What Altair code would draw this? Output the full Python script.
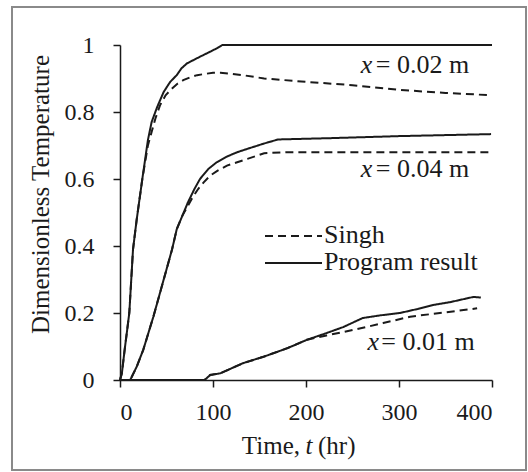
import altair as alt
import pandas as pd

# ---- data ----
# x = 0.02 m
prog02_t = [0, 2, 5, 10, 14, 18, 24, 30, 34, 40, 47, 54, 61, 66, 72, 79, 86, 97, 104, 110, 400]
prog02_T = [0, 0.02, 0.09, 0.2, 0.39, 0.48, 0.6, 0.716, 0.77, 0.815, 0.86, 0.89, 0.91, 0.93, 0.945, 0.955, 0.965, 0.98, 0.99, 1.0, 1.0]
singh02_t = [0, 2, 5, 10, 14, 18, 24, 30, 34, 38, 43, 49, 56, 62, 68, 75, 83, 92, 100, 108, 120, 132, 155, 200, 250, 300, 350, 399]
singh02_T = [0, 0.02, 0.09, 0.2, 0.39, 0.48, 0.6, 0.7, 0.74, 0.78, 0.82, 0.85, 0.87, 0.885, 0.895, 0.903, 0.91, 0.914, 0.917, 0.917, 0.914, 0.91, 0.90, 0.89, 0.88, 0.866, 0.857, 0.85]
# x = 0.04 m
prog04_t = [0, 11, 18, 25, 36, 46, 56, 61, 67, 73, 80, 86, 95, 104, 115, 126, 137, 155, 170, 227, 300, 399]
prog04_T = [0, 0, 0.04, 0.09, 0.19, 0.29, 0.39, 0.45, 0.49, 0.53, 0.57, 0.60, 0.63, 0.65, 0.667, 0.68, 0.69, 0.706, 0.718, 0.722, 0.728, 0.734]
singh04_t = [0, 11, 18, 25, 36, 46, 56, 61, 67, 73, 78, 84, 90, 97, 105, 115, 126, 137, 155, 180, 250, 320, 399]
singh04_T = [0, 0, 0.04, 0.09, 0.19, 0.29, 0.39, 0.45, 0.49, 0.52, 0.545, 0.57, 0.59, 0.61, 0.625, 0.64, 0.65, 0.66, 0.677, 0.68, 0.68, 0.68, 0.68]
# x = 0.01 m
prog01_t = [0, 91, 97, 108, 132, 155, 180, 201, 222, 240, 261, 280, 301, 320, 337, 356, 372, 380, 388]
prog01_T = [0, 0, 0.015, 0.02, 0.05, 0.07, 0.095, 0.12, 0.14, 0.158, 0.185, 0.193, 0.2, 0.212, 0.224, 0.233, 0.243, 0.248, 0.246]
singh01_t = [0, 91, 97, 108, 132, 155, 180, 201, 222, 240, 260, 283, 312, 344, 384]
singh01_T = [0, 0, 0.015, 0.02, 0.05, 0.07, 0.095, 0.12, 0.133, 0.143, 0.155, 0.17, 0.189, 0.20, 0.214]

methods = ["Singh", "Program result"]
dashes = [[8, 5], [1, 0]]

# curve labels
lab_rest = ["= 0.02 m", "= 0.04 m", "= 0.01 m"]
lab_x_t = [259, 259, 266]
lab_rest_t = [275, 275, 281]
lab_T = [0.916, 0.606, 0.09]

x_ticks = [0, 100, 200, 300, 400]
y_ticks = [0, 0.2, 0.4, 0.6, 0.8, 1]

rows = []
for name, method, ts, Ts in [
    ("0.02", "Program result", prog02_t, prog02_T),
    ("0.02", "Singh", singh02_t, singh02_T),
    ("0.04", "Program result", prog04_t, prog04_T),
    ("0.04", "Singh", singh04_t, singh04_T),
    ("0.01", "Program result", prog01_t, prog01_T),
    ("0.01", "Singh", singh01_t, singh01_T),
]:
    for i, (t, T) in enumerate(zip(ts, Ts)):
        rows.append({"t": t, "T": T, "pos": name, "method": method, "curve": name + method, "i": i})
df = pd.DataFrame(rows)
labels = pd.DataFrame({"rest": lab_rest, "tx": lab_x_t, "tr": lab_rest_t, "T": lab_T})

FONT = "Liberation Serif"
INK = "#1a1a1a"
TXT = 26
xs = alt.Scale(domain=[0, 400], nice=False)
ys = alt.Scale(domain=[0, 1], nice=False)

lines = alt.Chart(df).mark_line(strokeWidth=2, color=INK, clip=False).encode(
    x=alt.X("t:Q", scale=xs, axis=alt.Axis(
        values=x_ticks, title=None, labelPadding=13, format="d",
        labelFont=FONT, labelFontSize=24, labelColor=INK)),
    y=alt.Y("T:Q", scale=ys, axis=alt.Axis(
        values=y_ticks, title="Dimensionless Temperature", labelPadding=19,
        labelExpr="datum.value == 0 ? '0' : datum.value == 1 ? '1' : format(datum.value, '.1f')",
        labelFont=FONT, labelFontSize=24, labelColor=INK,
        titleFont=FONT, titleFontSize=25, titleColor=INK, titleFontWeight="normal",
        titleX=-80, titleY=149, titleAlign="center", titleBaseline="middle", titleAngle=270)),
    strokeDash=alt.StrokeDash("method:N", scale=alt.Scale(domain=methods, range=dashes), legend=None),
    detail="curve:N",
    order="i:Q",
)

lab_x = alt.Chart(labels).mark_text(font=FONT, fontSize=TXT, fontStyle="italic", align="left",
                                    baseline="alphabetic", color=INK).encode(
    x=alt.X("tx:Q", scale=xs), y=alt.Y("T:Q", scale=ys), text=alt.value("x"))
lab_r = alt.Chart(labels).mark_text(font=FONT, fontSize=TXT, align="left",
                                    baseline="alphabetic", color=INK).encode(
    x=alt.X("tr:Q", scale=xs), y=alt.Y("T:Q", scale=ys), text="rest:N")

# x-axis title with italic t
base = alt.Chart(pd.DataFrame({"a": [0]}))
xt1 = base.mark_text(font=FONT, fontSize=25, align="right", baseline="alphabetic", color=INK).encode(
    x=alt.value(180), y=alt.value(409), text=alt.value("Time,"))
xt2 = base.mark_text(font=FONT, fontSize=25, fontStyle="italic", align="center", baseline="alphabetic", color=INK).encode(
    x=alt.value(189), y=alt.value(409), text=alt.value("t"))
xt3 = base.mark_text(font=FONT, fontSize=25, align="left", baseline="alphabetic", color=INK).encode(
    x=alt.value(198), y=alt.value(409), text=alt.value("(hr)"))

# legend drawn by hand
leg1 = base.mark_rule(strokeWidth=2, color=INK, strokeDash=[8, 5]).encode(
    x=alt.value(145), x2=alt.value(202), y=alt.value(191))
leg2 = base.mark_rule(strokeWidth=2, color=INK).encode(
    x=alt.value(145), x2=alt.value(202), y=alt.value(218))
legt1 = base.mark_text(font=FONT, fontSize=TXT, align="left", baseline="alphabetic", color=INK).encode(
    x=alt.value(204), y=alt.value(198), text=alt.value("Singh"))
legt2 = base.mark_text(font=FONT, fontSize=TXT, align="left", baseline="alphabetic", color=INK).encode(
    x=alt.value(204), y=alt.value(225), text=alt.value("Program result"))

# outer frame
frame = base.mark_rect(fill=None, fillOpacity=0, stroke="#8a8a8a", strokeWidth=2).encode(
    x=alt.value(-108), x2=alt.value(406), y=alt.value(-38), y2=alt.value(425))

chart = alt.layer(frame, lines, lab_x, lab_r, xt1, xt2, xt3, leg1, leg2, legt1, legt2).properties(
    width=372, height=335,
    autosize=alt.AutoSizeParams(type="none"),
    padding={"left": 120, "top": 45, "right": 36, "bottom": 92},
    background="white",
).configure(font=FONT).configure_view(stroke=None).configure_axis(
    grid=False, domainColor=INK, tickColor=INK, domainWidth=1.5, tickWidth=1.5, tickSize=7,
    labelFont=FONT, labelFontSize=24, labelColor=INK,
    titleFont=FONT, titleFontSize=25, titleColor=INK, titleFontWeight="normal",
)

chart.save("out.html", embed_options={"renderer": "svg", "actions": False})
